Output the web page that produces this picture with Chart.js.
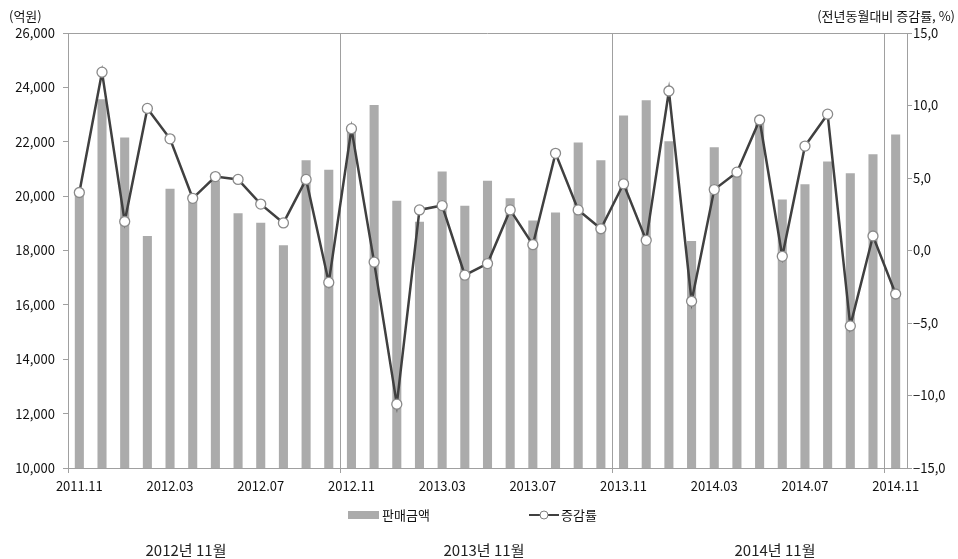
<!DOCTYPE html>
<html>
<head>
<meta charset="utf-8">
<script src="https://cdn.jsdelivr.net/npm/chart.js@4/dist/chart.umd.min.js"></script>
<style>
  body { margin: 0; background: #fff; }
  #wrap { width: 958px; height: 559px; }
</style>
</head>
<body>
<div id="wrap"><canvas id="myChart" width="958" height="559"></canvas></div>
<script>
'use strict';
let months = ['2011.11', '2011.12', '2012.01', '2012.02', '2012.03', '2012.04', '2012.05', '2012.06', '2012.07', '2012.08', '2012.09', '2012.10',
  '2012.11', '2012.12', '2013.01', '2013.02', '2013.03', '2013.04', '2013.05', '2013.06', '2013.07', '2013.08', '2013.09', '2013.10',
  '2013.11', '2013.12', '2014.01', '2014.02', '2014.03', '2014.04', '2014.05', '2014.06', '2014.07', '2014.08', '2014.09', '2014.10', '2014.11'];

// 판매금액 (억원)
let sales = [20050, 23560, 22160, 18530, 20270, 19950, 20570, 19370, 19020, 18190, 21320, 20970,
  22400, 23350, 19830, 19060, 20910, 19650, 20570, 19920, 19100, 19400, 21970, 21320,
  22970, 23530, 22020, 18350, 21800, 20900, 22700, 19880, 20440, 21270, 20840, 21540, 22270];

// 증감률 (전년동월대비, %)
let rates = [4.0, 12.3, 2.0, 9.8, 7.7, 3.6, 5.1, 4.9, 3.2, 1.9, 4.9, -2.2,
  8.4, -0.8, -10.6, 2.8, 3.1, -1.7, -0.9, 2.8, 0.4, 6.7, 2.8, 1.5,
  4.6, 0.7, 11.0, -3.5, 4.2, 5.4, 9.0, -0.4, 7.2, 9.4, -5.2, 1.0, -3.0];

let periodNotes = ['2012년 11월', '2013년 11월', '2014년 11월'];
let seriesNames = ['판매금액', '증감률'];
let leftUnit = '(억원)';
let rightUnit = '(전년동월대비 증감률, %)';

let fontFamily = '"Noto Sans CJK KR", "Noto Sans", sans-serif';
let axisGrey = '#a0a0a0';
let barGrey = '#ababab';
let lineDark = '#404040';

let extraText = {
  id: 'extraText',
  afterDraw(chart) {
    let ctx = chart.ctx;
    let area = chart.chartArea;
    ctx.save();
    // top border of plot
    ctx.strokeStyle = axisGrey;
    ctx.lineWidth = 1;
    ctx.beginPath();
    ctx.moveTo(area.left, area.top + 0.5);
    ctx.lineTo(area.right, area.top + 0.5);
    ctx.stroke();

    ctx.fillStyle = '#111';
    ctx.font = '13px ' + fontFamily;
    ctx.textBaseline = 'middle';
    ctx.textAlign = 'left';
    ctx.fillText(leftUnit, 9, 16);
    ctx.textAlign = 'right';
    ctx.fillText(rightUnit, 955, 16);

    // legend
    let ly = 515;
    ctx.fillStyle = barGrey;
    ctx.fillRect(348, ly - 4, 31, 8);
    ctx.fillStyle = '#111';
    ctx.textAlign = 'left';
    ctx.fillText(seriesNames[0], 382, ly);
    ctx.strokeStyle = lineDark;
    ctx.lineWidth = 2;
    ctx.beginPath();
    ctx.moveTo(529, ly);
    ctx.lineTo(559, ly);
    ctx.stroke();
    ctx.beginPath();
    ctx.arc(544, ly, 4, 0, Math.PI * 2);
    ctx.fillStyle = '#fff';
    ctx.fill();
    ctx.strokeStyle = '#808080';
    ctx.lineWidth = 1;
    ctx.stroke();
    ctx.fillStyle = '#111';
    ctx.fillText(seriesNames[1], 561, ly);

    // notes under chart
    ctx.font = '15px ' + fontFamily;
    ctx.textAlign = 'center';
    ctx.fillStyle = '#222';
    ctx.fillText(periodNotes[0], 186, 550);
    ctx.fillText(periodNotes[1], 484, 550);
    ctx.fillText(periodNotes[2], 775, 550);
    ctx.restore();
  }
};

let ctx = document.getElementById('myChart').getContext('2d');
let myChart = new Chart(ctx, {
  type: 'bar',
  data: {
    labels: months,
    datasets: [{
      type: 'line',
      label: seriesNames[1],
      data: rates,
      yAxisID: 'y1',
      order: 0,
      borderColor: lineDark,
      borderWidth: 2.5,
      tension: 0,
      pointRadius: 5,
      pointBackgroundColor: '#fff',
      pointBorderColor: '#8a8a8a',
      pointBorderWidth: 1.3
    },
    {
      type: 'bar',
      label: seriesNames[0],
      data: sales,
      yAxisID: 'y',
      order: 1,
      backgroundColor: barGrey,
      barPercentage: 0.4,
      categoryPercentage: 1.0
    }]
  },
  options: {
    responsive: false,
    animation: false,
    layout: { padding: { top: 33, left: 0, right: 0, bottom: 0 } },
    plugins: {
      legend: { display: false },
      tooltip: { enabled: false }
    },
    scales: {
      x: {
        offset: true,
        grid: {
          offset: true,
          color: (c) => (c.index % 12 === 0 ? axisGrey : 'rgba(0,0,0,0)'),
          tickLength: 5
        },
        border: { color: axisGrey },
        ticks: {
          autoSkip: false,
          maxRotation: 0,
          padding: 5,
          color: '#111',
          font: { family: fontFamily, size: 13 },
          callback: (v, i) => (i % 4 === 0 ? months[i] : '')
        },
        afterFit: (s) => { s.height = 91; }
      },
      y: {
        position: 'left',
        min: 10000,
        max: 26000,
        grid: { drawOnChartArea: false, tickLength: 5, color: axisGrey },
        border: { color: axisGrey },
        ticks: {
          stepSize: 2000,
          padding: 8,
          color: '#111',
          font: { family: fontFamily, size: 13 },
          callback: (v) => v.toLocaleString('en-US')
        },
        afterFit: (s) => { s.width = 68; }
      },
      y1: {
        position: 'right',
        min: -15,
        max: 15,
        grid: { drawOnChartArea: false, tickLength: 5, color: axisGrey },
        border: { color: axisGrey },
        ticks: {
          stepSize: 5,
          padding: 1,
          color: '#111',
          font: { family: fontFamily, size: 13 },
          callback: (v) => v.toFixed(1).replace('.', ',').replace('-', '−')
        },
        afterFit: (s) => { s.width = 51; }
      }
    }
  },
  plugins: [extraText]
});
</script>
</body>
</html>
